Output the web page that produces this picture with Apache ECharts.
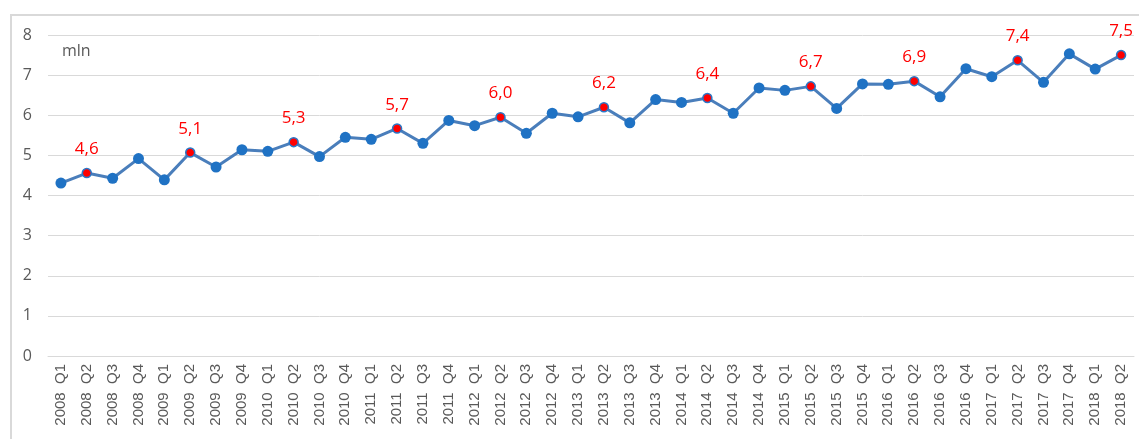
<!DOCTYPE html>
<html><head><meta charset="utf-8">
<script src="https://cdn.jsdelivr.net/npm/echarts@6/dist/echarts.min.js"></script>
<style>html,body{margin:0;padding:0;background:#fff}#c{width:1139px;height:439px}
#frame{position:absolute;left:10px;top:14px;width:1200px;height:500px;border-left:2px solid #d9d9d9;border-top:2px solid #d9d9d9;box-sizing:border-box;pointer-events:none}</style>
</head><body>
<div id="c"></div><div id="frame"></div>
<script>
const categories = [
 "2008 Q1","2008 Q2","2008 Q3","2008 Q4","2009 Q1","2009 Q2","2009 Q3","2009 Q4",
 "2010 Q1","2010 Q2","2010 Q3","2010 Q4","2011 Q1","2011 Q2","2011 Q3","2011 Q4",
 "2012 Q1","2012 Q2","2012 Q3","2012 Q4","2013 Q1","2013 Q2","2013 Q3","2013 Q4",
 "2014 Q1","2014 Q2","2014 Q3","2014 Q4","2015 Q1","2015 Q2","2015 Q3","2015 Q4",
 "2016 Q1","2016 Q2","2016 Q3","2016 Q4","2017 Q1","2017 Q2","2017 Q3","2017 Q4",
 "2018 Q1","2018 Q2"];
const values = [
 4.31,4.56,4.43,4.92,4.39,5.07,4.71,5.14,
 5.10,5.33,4.97,5.45,5.40,5.67,5.30,5.87,
 5.74,5.95,5.55,6.05,5.96,6.20,5.81,6.39,
 6.32,6.43,6.05,6.68,6.62,6.72,6.17,6.78,
 6.77,6.85,6.46,7.16,6.96,7.37,6.82,7.53,
 7.15,7.50];
// Q2 points highlighted in red with labels
const labelled = {1:"4,6",5:"5,1",9:"5,3",13:"5,7",17:"6,0",21:"6,2",25:"6,4",29:"6,7",33:"6,9",37:"7,4",41:"7,5"};
const yTicks = [0,1,2,3,4,5,6,7,8];
const unitText = "mln";

const chart = echarts.init(document.getElementById('c'), null, {renderer:'canvas'});
const seriesData = values.map((v,i)=> labelled[i] ? {
  value:v, symbolSize:9,
  itemStyle:{color:'#ff0000',borderColor:'#2a78c8',borderWidth:1.5},
  label:{show:true,formatter:labelled[i],position:'top',distance:10,color:'#ff0000',fontSize:17,fontFamily:'"Open Sans", sans-serif'}
} : v);
chart.setOption({
  animation:false,
  grid:{left:48,right:5,top:35,bottom:83,containLabel:false},
  graphic:[{type:'text',left:62,top:43,style:{text:unitText,fill:'#595959',fontSize:16,fontFamily:'"Open Sans", sans-serif'}}],
  xAxis:{type:'category',data:categories,boundaryGap:true,
    axisLine:{show:true,lineStyle:{color:'#d9d9d9',width:1}},
    axisTick:{show:false},
    axisLabel:{rotate:90,interval:0,color:'#595959',fontSize:15,fontFamily:'"Liberation Sans", Arial, sans-serif',margin:8,
      formatter:v=>v.replace(' ','  ')}},
  yAxis:{type:'value',min:yTicks[0],max:yTicks[yTicks.length-1],interval:1,
    axisLine:{show:false},axisTick:{show:false},
    axisLabel:{color:'#595959',fontSize:16,fontFamily:'"Open Sans", sans-serif',margin:16},
    splitLine:{lineStyle:{color:'#d9d9d9',width:1}}},
  series:[{type:'line',data:seriesData,symbol:'circle',symbolSize:11,
    lineStyle:{color:'#4a7ebb',width:3},
    itemStyle:{color:'#1f72c4',borderColor:'#1f72c4',borderWidth:0},
    label:{show:false}}]
});
</script>
</body></html>
